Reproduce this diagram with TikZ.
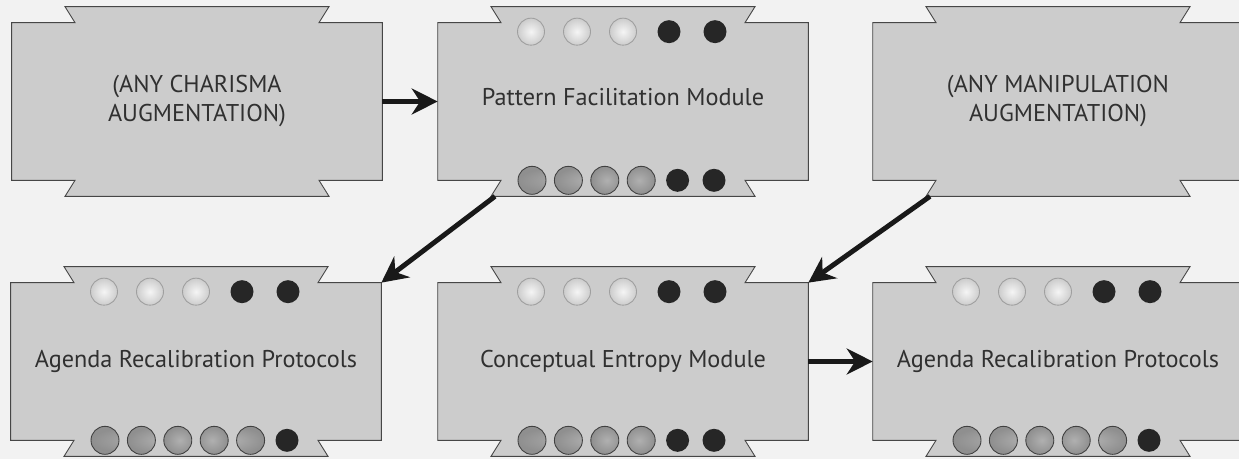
\documentclass[tikz,border=0pt]{standalone}
\usepackage{fontspec}
\setmainfont{PT Sans}
\usepackage{tikz}
\usetikzlibrary{calc}
\usetikzlibrary{arrows.meta}
\usetikzlibrary{backgrounds}

\definecolor{pagegray}{RGB}{242,242,242}
\definecolor{panelgray}{RGB}{204,204,204}
\definecolor{inkgray}{RGB}{48,48,48}

\begin{document}
\begin{tikzpicture}[
    x=0.02cm,
    y=0.02cm,
    >={Stealth[length=0.52cm,width=0.52cm]},
    every node/.style={font=\fontsize{13.8}{16.5}\selectfont},
    modbox/.style={minimum width=7.4cm, minimum height=3.14cm,
        inner sep=0pt, align=center, text=inkgray},
    panel/.style={fill=panelgray, draw=gray!55!black, line width=0.5pt},
    flow/.style={->, line width=2.8pt, black!90},
    lightbead/.style={inner color=gray!8, outer color=gray!40,
        draw=gray!75, line width=0.5pt},
    greybead/.style={inner color=gray!62, outer color=gray!88,
        draw=black!75, line width=0.5pt},
    darkbead/.style={fill=black!85}
]

%------------------------------------------------------------
% Frame
%------------------------------------------------------------

\useasboundingbox (0,0) rectangle (1239,459);

%------------------------------------------------------------
% Coordinates
%------------------------------------------------------------

\coordinate (P1) at (197,357.5);   % charisma
\coordinate (P2) at (623,357.5);   % pattern facilitation
\coordinate (P3) at (1058,357.5);  % manipulation
\coordinate (P4) at (196,97.5);    % agenda (left)
\coordinate (P5) at (623,97.5);    % conceptual entropy
\coordinate (P6) at (1058,97.5);   % agenda (right)

%------------------------------------------------------------
% Modules
%------------------------------------------------------------

\node[modbox] (b1) at (P1)
{(ANY CHARISMA\\AUGMENTATION)};

\node[modbox] (b2) at (P2)
{\raisebox{0.2cm}{Pattern Facilitation Module}};

\node[modbox] (b3) at (P3)
{(ANY MANIPULATION\\AUGMENTATION)};

\node[modbox] (b4) at (P4)
{Agenda Recalibration Protocols};

\node[modbox] (b5) at (P5)
{Conceptual Entropy Module};

\node[modbox] (b6) at (P6)
{Agenda Recalibration Protocols};

%------------------------------------------------------------
% Panels behind the text
%------------------------------------------------------------

\begin{scope}[on background layer]

\fill[pagegray]
(0,0) rectangle (1239,459);

\foreach \b in {b1,b2,b3,b4,b5,b6}{
\draw[panel]
(\b.south west)
-- ($(\b.south)+(-122,0)$)
-- ($(\b.south)+(-132,-16)$)
-- ($(\b.south)+(132,-16)$)
-- ($(\b.south)+(122,0)$)
-- (\b.south east)
-- (\b.north east)
-- ($(\b.north)+(122,0)$)
-- ($(\b.north)+(132,16)$)
-- ($(\b.north)+(-132,16)$)
-- ($(\b.north)+(-122,0)$)
-- (\b.north west)
-- cycle;
}

\end{scope}

%------------------------------------------------------------
% Beads
%------------------------------------------------------------

% top rows
\foreach \b in {b2,b4,b5,b6}{
\foreach \dx in {-92,-46,0}
\shadedraw[lightbead] ($(\b.north)+(\dx,-9)$) circle (0.27cm);
\foreach \dx in {46,92}
\fill[darkbead] ($(\b.north)+(\dx,-9)$) circle (0.23cm);
}

% bottom rows, two dark
\foreach \b in {b2,b5}{
\foreach \dx in {-91,-54.6,-18.2,18.2}
\shadedraw[greybead] (\b.south) ++(\dx,0) circle (0.28cm);
\foreach \dx in {54.6,91}
\fill[darkbead] (\b.south) ++(\dx,0) circle (0.23cm);
}

% bottom rows, one dark
\foreach \b in {b4,b6}{
\foreach \dx in {-91,-54.6,-18.2,18.2,54.6}
\shadedraw[greybead] (\b.south) ++(\dx,0) circle (0.28cm);
\fill[darkbead] (\b.south) ++(91,0) circle (0.23cm);
}

%------------------------------------------------------------
% Connectors
%------------------------------------------------------------

\coordinate (b2-foot) at ($(b2.south)+(-128,-16)$);
\coordinate (b3-foot) at ($(b3.south)+(-128,-16)$);

\draw[flow]
(b1.east) -- (b2.west);

\draw[flow]
(b2-foot) -- (b4.north east);

\draw[flow]
(b3-foot) -- (b5.north east);

\draw[flow]
(b5.east) -- (b6.west);

\end{tikzpicture}
\end{document}
